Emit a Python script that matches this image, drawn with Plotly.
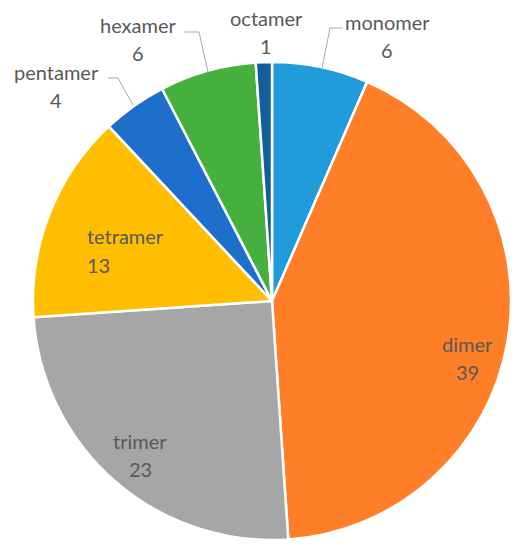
import plotly.graph_objects as go

W, H = 522, 550

# valores por oligômero
labels = ['monomer', 'dimer', 'trimer', 'tetramer', 'pentamer', 'hexamer', 'octamer']
values = [6, 39, 23, 13, 4, 6, 1]
colors = ['#219CDB', '#FE7F27', '#A6A6A6', '#FFBF00', '#1E6FCB', '#45B03E', '#115E99']

# posição (px) dos rótulos: nome e valor em linhas separadas
label_pos = {
    'monomer': (387, 22),
    'dimer': (467, 344),
    'trimer': (140, 441),
    'tetramer': (125, 236),
    'pentamer': (56, 72),
    'hexamer': (138, 25),
    'octamer': (266, 18),
}
value_pos = {
    'tetramer': (98, 265),
}

# linhas de chamada (px)
leaders = {
    'monomer': [(322, 68), (330, 28), (342, 28)],
    'hexamer': [(208, 72), (199, 32), (184, 32)],
    'pentamer': [(133, 105), (118, 78), (108, 78)],
}

def px(x):
  return x / W

def py(y):
  return 1 - y / H

cx, cy, r = 272, 301, 239

fig = go.Figure(go.Pie(
  labels=labels, values=values, sort=False, direction='clockwise', rotation=0,
  marker=dict(colors=colors, line=dict(color='white', width=2.5)),
  textinfo='none', hoverinfo='label+value',
  domain=dict(x=[px(cx - r), px(cx + r)], y=[py(cy + r), py(cy - r)]),
))

font = dict(family='Lato, Open Sans, sans-serif', size=20, color='#595959')
annotations = []
for name, v in zip(labels, values):
  x, y = label_pos[name]
  vx, vy = value_pos.get(name, (x, y + 28))
  annotations.append(dict(text=name, x=px(x), y=py(y), xref='paper', yref='paper',
                          showarrow=False, font=font, xanchor='center', yanchor='middle'))
  annotations.append(dict(text=str(v), x=px(vx), y=py(vy), xref='paper', yref='paper',
                          showarrow=False, font=font, xanchor='center', yanchor='middle'))

shapes = []
for pts in leaders.values():
  path = 'M ' + ' L '.join(f'{px(a)} {py(b)}' for a, b in pts)
  shapes.append(dict(type='path', path=path, xref='paper', yref='paper',
                     line=dict(color='#A6A6A6', width=1)))

fig.update_layout(width=W, height=H, margin=dict(l=0, r=0, t=0, b=0),
                  showlegend=False, paper_bgcolor='white', plot_bgcolor='white',
                  annotations=annotations, shapes=shapes)

# tirar a margem padrão do body
fig.write_html('out.html', config={'displayModeBar': False},
               post_script="document.body.style.margin='0';")
